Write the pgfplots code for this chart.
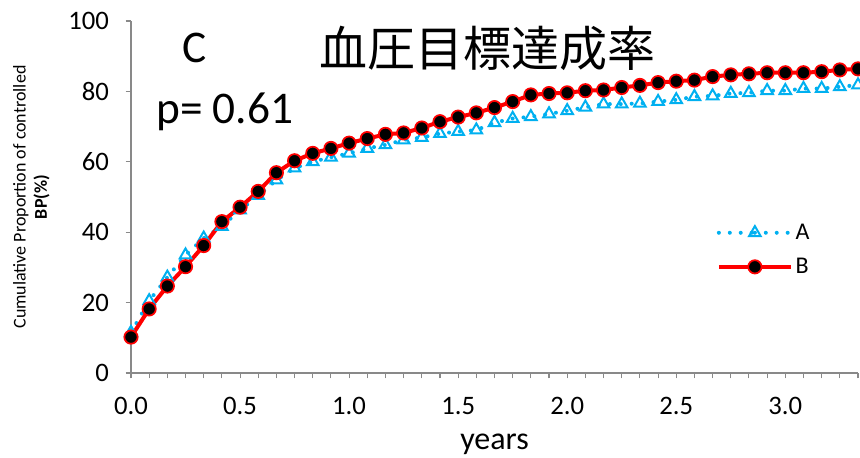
\documentclass[border=0pt]{standalone}
\usepackage{fontspec}
\setmainfont{Carlito}
\newfontfamily\cjk{Noto Sans CJK JP}
\usepackage{pgfplots}
\pgfplotsset{compat=1.18}
\definecolor{cA}{RGB}{0,176,240}
\definecolor{axgray}{RGB}{137,137,137}
\begin{document}
\begin{tikzpicture}
\begin{axis}[
  at={(0,0)}, anchor=south west,
  scale only axis, width=545.25pt, height=264pt,
  xmin=0, xmax=3.33333, ymin=0, ymax=100,
  axis x line*=bottom, axis y line*=left,
  axis line style={-, draw=axgray, line width=1pt},
  xtick={0,0.5,1,1.5,2,2.5,3},
  minor xtick={0.0833333,0.1666667,0.25,0.3333333,0.4166667,0.5833333,0.6666667,0.75,0.8333333,0.9166667,1.0833333,1.1666667,1.25,1.3333333,1.4166667,1.5833333,1.6666667,1.75,1.8333333,1.9166667,2.0833333,2.1666667,2.25,2.3333333,2.4166667,2.5833333,2.6666667,2.75,2.8333333,2.9166667,3.0833333,3.1666667,3.25,3.3333333},
  ytick={0,20,40,60,80,100},
  tick align=outside,
  major tick length=4pt, minor tick length=4pt,
  tick style={draw=axgray, line width=0.8pt, solid},
  minor tick style={draw=axgray, line width=0.8pt, solid},
  /pgf/number format/assume math mode=true,
  ticklabel style={font=\fontsize{20}{22}\selectfont, text=black},
  xticklabel style={/pgf/number format/fixed, /pgf/number format/fixed zerofill, /pgf/number format/precision=1, yshift=-10.5pt},
  yticklabel style={xshift=-9pt},
  xlabel={years},
  xlabel style={font=\fontsize{24}{26}\selectfont, yshift=-7.5pt},
  ylabel={\begin{tabular}{c}Cumulative Proportion of controlled\\\textbf{BP(\%)}\end{tabular}},
  ylabel style={font=\fontsize{13.5}{16}\selectfont, yshift=4.5pt},
  legend style={at={(0.80,0.35)}, anchor=west, draw=none, fill=none,
    font=\fontsize{18}{20}\selectfont, row sep=8.5pt},
  legend cell align=left,
  legend image code/.code={
    \draw[#1] (0pt,0pt) -- (27pt,0pt) plot coordinates {(27pt,0pt)} -- (54pt,0pt);
  },
]
\addplot[color=cA, line width=3pt, line cap=round, dash pattern=on 0pt off 8.2pt,
  mark=triangle, mark size=5pt, mark options={solid, draw=cA, line width=1.5pt}]
coordinates {
(0.0000,11.5)(0.0833,20.5)(0.1667,27.2)(0.2500,33.5)(0.3333,38.3)(0.4167,41.6)
(0.5000,46.3)(0.5833,50.4)(0.6667,54.8)(0.7500,58.2)(0.8333,60.0)(0.9167,61.3)
(1.0000,62.4)(1.0833,63.8)(1.1667,64.8)(1.2500,66.2)(1.3333,66.9)(1.4167,68.0)
(1.5000,68.6)(1.5833,69.0)(1.6667,71.1)(1.7500,72.3)(1.8333,72.8)(1.9167,73.6)
(2.0000,74.5)(2.0833,75.5)(2.1667,76.4)(2.2500,76.4)(2.3333,76.6)(2.4167,77.1)
(2.5000,77.6)(2.5833,78.5)(2.6667,78.7)(2.7500,79.4)(2.8333,79.6)(2.9167,80.2)
(3.0000,80.2)(3.0833,80.8)(3.1667,80.8)(3.2500,81.3)(3.3333,81.8)
};
\addlegendentry{A}
\addplot[color=red, line width=3pt,
  mark=*, mark size=5pt, mark options={solid, fill=black, draw=red, line width=1.3pt}]
coordinates {
(0.0000,10.2)(0.0833,18.2)(0.1667,24.7)(0.2500,30.2)(0.3333,36.2)(0.4167,43.0)
(0.5000,47.1)(0.5833,51.6)(0.6667,56.9)(0.7500,60.3)(0.8333,62.4)(0.9167,63.8)
(1.0000,65.3)(1.0833,66.6)(1.1667,67.8)(1.2500,68.2)(1.3333,69.6)(1.4167,71.4)
(1.5000,72.7)(1.5833,73.9)(1.6667,75.4)(1.7500,77.1)(1.8333,79.0)(1.9167,79.4)
(2.0000,79.6)(2.0833,80.2)(2.1667,80.4)(2.2500,81.1)(2.3333,81.7)(2.4167,82.5)
(2.5000,82.9)(2.5833,83.2)(2.6667,84.2)(2.7500,84.7)(2.8333,85.0)(2.9167,85.3)
(3.0000,85.3)(3.0833,85.3)(3.1667,85.6)(3.2500,86.1)(3.3333,86.4)
};
\addlegendentry{B}
\node[font=\fontsize{34}{36}\selectfont] at (rel axis cs:0.088,0.923) {C};
\node[font=\fontsize{36}{40}\selectfont\cjk] at (rel axis cs:0.490,0.923) {血圧目標達成率};
\node[font=\fontsize{34}{36}\selectfont] at (rel axis cs:0.129,0.741) {p= 0.61};
\end{axis}
\pgfresetboundingbox
\path[use as bounding box] (-98.25pt,-63pt) rectangle (546.75pt,279.75pt);
\end{tikzpicture}
\end{document}
